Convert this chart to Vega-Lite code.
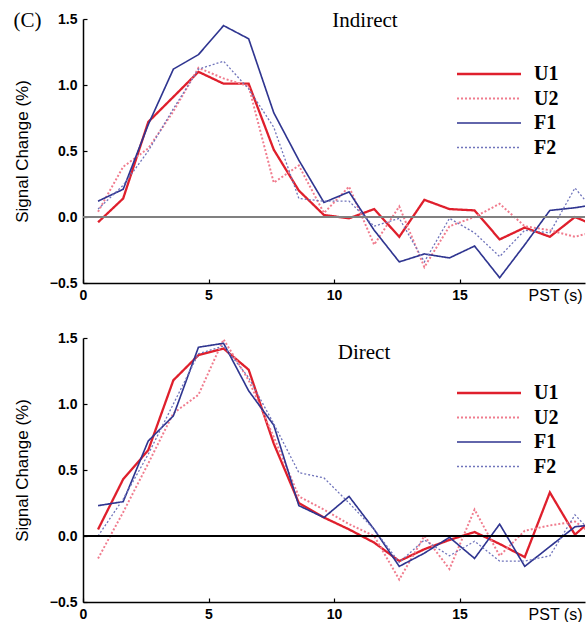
{
  "$schema": "https://vega.github.io/schema/vega-lite/v6.json",
  "padding": {"left": 13, "top": 10, "right": 0, "bottom": 0},
  "title": {"text": "(C)", "anchor": "start", "frame": "bounds", "font": "Liberation Serif", "fontSize": 21, "fontWeight": "normal", "color": "#000", "offset": -32, "dx": 0, "baseline": "middle"},
  "datasets": {
    "d": [
      {"p":"Indirect","s":"U1","x":0.6,"y":-0.04},{"p":"Indirect","s":"U1","x":1.6,"y":0.14},{"p":"Indirect","s":"U1","x":2.6,"y":0.72},{"p":"Indirect","s":"U1","x":3.6,"y":0.91},{"p":"Indirect","s":"U1","x":4.6,"y":1.10},{"p":"Indirect","s":"U1","x":5.6,"y":1.01},{"p":"Indirect","s":"U1","x":6.6,"y":1.01},{"p":"Indirect","s":"U1","x":7.6,"y":0.51},{"p":"Indirect","s":"U1","x":8.6,"y":0.20},{"p":"Indirect","s":"U1","x":9.6,"y":0.015},{"p":"Indirect","s":"U1","x":10.6,"y":-0.01},{"p":"Indirect","s":"U1","x":11.6,"y":0.06},{"p":"Indirect","s":"U1","x":12.6,"y":-0.15},{"p":"Indirect","s":"U1","x":13.6,"y":0.13},{"p":"Indirect","s":"U1","x":14.6,"y":0.06},{"p":"Indirect","s":"U1","x":15.6,"y":0.05},{"p":"Indirect","s":"U1","x":16.6,"y":-0.17},{"p":"Indirect","s":"U1","x":17.6,"y":-0.08},{"p":"Indirect","s":"U1","x":18.6,"y":-0.15},{"p":"Indirect","s":"U1","x":19.6,"y":0.0},{"p":"Indirect","s":"U1","x":20.6,"y":-0.08},
      {"p":"Indirect","s":"U2","x":0.6,"y":0.04},{"p":"Indirect","s":"U2","x":1.6,"y":0.38},{"p":"Indirect","s":"U2","x":2.6,"y":0.52},{"p":"Indirect","s":"U2","x":3.6,"y":0.80},{"p":"Indirect","s":"U2","x":4.6,"y":1.13},{"p":"Indirect","s":"U2","x":5.6,"y":1.05},{"p":"Indirect","s":"U2","x":6.6,"y":0.99},{"p":"Indirect","s":"U2","x":7.6,"y":0.26},{"p":"Indirect","s":"U2","x":8.6,"y":0.39},{"p":"Indirect","s":"U2","x":9.6,"y":0.03},{"p":"Indirect","s":"U2","x":10.6,"y":0.23},{"p":"Indirect","s":"U2","x":11.6,"y":-0.21},{"p":"Indirect","s":"U2","x":12.6,"y":0.08},{"p":"Indirect","s":"U2","x":13.6,"y":-0.38},{"p":"Indirect","s":"U2","x":14.6,"y":-0.07},{"p":"Indirect","s":"U2","x":15.6,"y":0.0},{"p":"Indirect","s":"U2","x":16.6,"y":0.10},{"p":"Indirect","s":"U2","x":17.6,"y":-0.07},{"p":"Indirect","s":"U2","x":18.6,"y":-0.10},{"p":"Indirect","s":"U2","x":19.6,"y":-0.15},{"p":"Indirect","s":"U2","x":20.6,"y":-0.10},
      {"p":"Indirect","s":"F1","x":0.6,"y":0.12},{"p":"Indirect","s":"F1","x":1.6,"y":0.21},{"p":"Indirect","s":"F1","x":2.6,"y":0.70},{"p":"Indirect","s":"F1","x":3.6,"y":1.12},{"p":"Indirect","s":"F1","x":4.6,"y":1.23},{"p":"Indirect","s":"F1","x":5.6,"y":1.45},{"p":"Indirect","s":"F1","x":6.6,"y":1.35},{"p":"Indirect","s":"F1","x":7.6,"y":0.79},{"p":"Indirect","s":"F1","x":8.6,"y":0.43},{"p":"Indirect","s":"F1","x":9.6,"y":0.11},{"p":"Indirect","s":"F1","x":10.6,"y":0.19},{"p":"Indirect","s":"F1","x":11.6,"y":-0.10},{"p":"Indirect","s":"F1","x":12.6,"y":-0.34},{"p":"Indirect","s":"F1","x":13.6,"y":-0.28},{"p":"Indirect","s":"F1","x":14.6,"y":-0.31},{"p":"Indirect","s":"F1","x":15.6,"y":-0.22},{"p":"Indirect","s":"F1","x":16.6,"y":-0.46},{"p":"Indirect","s":"F1","x":17.6,"y":-0.21},{"p":"Indirect","s":"F1","x":18.6,"y":0.05},{"p":"Indirect","s":"F1","x":19.6,"y":0.07},{"p":"Indirect","s":"F1","x":20.6,"y":0.10},
      {"p":"Indirect","s":"F2","x":0.6,"y":0.06},{"p":"Indirect","s":"F2","x":1.6,"y":0.24},{"p":"Indirect","s":"F2","x":2.6,"y":0.50},{"p":"Indirect","s":"F2","x":3.6,"y":0.82},{"p":"Indirect","s":"F2","x":4.6,"y":1.12},{"p":"Indirect","s":"F2","x":5.6,"y":1.18},{"p":"Indirect","s":"F2","x":6.6,"y":0.97},{"p":"Indirect","s":"F2","x":7.6,"y":0.68},{"p":"Indirect","s":"F2","x":8.6,"y":0.14},{"p":"Indirect","s":"F2","x":9.6,"y":0.12},{"p":"Indirect","s":"F2","x":10.6,"y":0.12},{"p":"Indirect","s":"F2","x":11.6,"y":-0.07},{"p":"Indirect","s":"F2","x":12.6,"y":-0.01},{"p":"Indirect","s":"F2","x":13.6,"y":-0.34},{"p":"Indirect","s":"F2","x":14.6,"y":-0.01},{"p":"Indirect","s":"F2","x":15.6,"y":-0.12},{"p":"Indirect","s":"F2","x":16.6,"y":-0.30},{"p":"Indirect","s":"F2","x":17.6,"y":-0.10},{"p":"Indirect","s":"F2","x":18.6,"y":-0.12},{"p":"Indirect","s":"F2","x":19.6,"y":0.22},{"p":"Indirect","s":"F2","x":20.6,"y":-0.01},
      {"p":"Direct","s":"U1","x":0.6,"y":0.05},{"p":"Direct","s":"U1","x":1.6,"y":0.43},{"p":"Direct","s":"U1","x":2.6,"y":0.65},{"p":"Direct","s":"U1","x":3.6,"y":1.18},{"p":"Direct","s":"U1","x":4.6,"y":1.37},{"p":"Direct","s":"U1","x":5.6,"y":1.42},{"p":"Direct","s":"U1","x":6.6,"y":1.26},{"p":"Direct","s":"U1","x":7.6,"y":0.70},{"p":"Direct","s":"U1","x":8.6,"y":0.25},{"p":"Direct","s":"U1","x":9.6,"y":0.14},{"p":"Direct","s":"U1","x":10.6,"y":0.05},{"p":"Direct","s":"U1","x":11.6,"y":-0.05},{"p":"Direct","s":"U1","x":12.6,"y":-0.19},{"p":"Direct","s":"U1","x":13.6,"y":-0.10},{"p":"Direct","s":"U1","x":14.6,"y":-0.03},{"p":"Direct","s":"U1","x":15.6,"y":0.03},{"p":"Direct","s":"U1","x":16.6,"y":-0.06},{"p":"Direct","s":"U1","x":17.6,"y":-0.16},{"p":"Direct","s":"U1","x":18.6,"y":0.33},{"p":"Direct","s":"U1","x":19.6,"y":0.01},{"p":"Direct","s":"U1","x":20.6,"y":0.18},
      {"p":"Direct","s":"U2","x":0.6,"y":-0.17},{"p":"Direct","s":"U2","x":1.6,"y":0.18},{"p":"Direct","s":"U2","x":2.6,"y":0.55},{"p":"Direct","s":"U2","x":3.6,"y":0.93},{"p":"Direct","s":"U2","x":4.6,"y":1.07},{"p":"Direct","s":"U2","x":5.6,"y":1.49},{"p":"Direct","s":"U2","x":6.6,"y":1.18},{"p":"Direct","s":"U2","x":7.6,"y":0.75},{"p":"Direct","s":"U2","x":8.6,"y":0.30},{"p":"Direct","s":"U2","x":9.6,"y":0.20},{"p":"Direct","s":"U2","x":10.6,"y":0.09},{"p":"Direct","s":"U2","x":11.6,"y":0.0},{"p":"Direct","s":"U2","x":12.6,"y":-0.33},{"p":"Direct","s":"U2","x":13.6,"y":0.0},{"p":"Direct","s":"U2","x":14.6,"y":-0.25},{"p":"Direct","s":"U2","x":15.6,"y":0.20},{"p":"Direct","s":"U2","x":16.6,"y":-0.15},{"p":"Direct","s":"U2","x":17.6,"y":0.04},{"p":"Direct","s":"U2","x":18.6,"y":0.08},{"p":"Direct","s":"U2","x":19.6,"y":0.11},{"p":"Direct","s":"U2","x":20.6,"y":-0.03},
      {"p":"Direct","s":"F1","x":0.6,"y":0.23},{"p":"Direct","s":"F1","x":1.6,"y":0.26},{"p":"Direct","s":"F1","x":2.6,"y":0.72},{"p":"Direct","s":"F1","x":3.6,"y":0.91},{"p":"Direct","s":"F1","x":4.6,"y":1.43},{"p":"Direct","s":"F1","x":5.6,"y":1.46},{"p":"Direct","s":"F1","x":6.6,"y":1.10},{"p":"Direct","s":"F1","x":7.6,"y":0.84},{"p":"Direct","s":"F1","x":8.6,"y":0.23},{"p":"Direct","s":"F1","x":9.6,"y":0.14},{"p":"Direct","s":"F1","x":10.6,"y":0.30},{"p":"Direct","s":"F1","x":11.6,"y":0.05},{"p":"Direct","s":"F1","x":12.6,"y":-0.23},{"p":"Direct","s":"F1","x":13.6,"y":-0.13},{"p":"Direct","s":"F1","x":14.6,"y":-0.01},{"p":"Direct","s":"F1","x":15.6,"y":-0.17},{"p":"Direct","s":"F1","x":16.6,"y":0.09},{"p":"Direct","s":"F1","x":17.6,"y":-0.23},{"p":"Direct","s":"F1","x":18.6,"y":-0.08},{"p":"Direct","s":"F1","x":19.6,"y":0.07},{"p":"Direct","s":"F1","x":20.6,"y":0.09},
      {"p":"Direct","s":"F2","x":0.6,"y":0.0},{"p":"Direct","s":"F2","x":1.6,"y":0.28},{"p":"Direct","s":"F2","x":2.6,"y":0.62},{"p":"Direct","s":"F2","x":3.6,"y":1.00},{"p":"Direct","s":"F2","x":4.6,"y":1.38},{"p":"Direct","s":"F2","x":5.6,"y":1.44},{"p":"Direct","s":"F2","x":6.6,"y":1.20},{"p":"Direct","s":"F2","x":7.6,"y":0.85},{"p":"Direct","s":"F2","x":8.6,"y":0.48},{"p":"Direct","s":"F2","x":9.6,"y":0.44},{"p":"Direct","s":"F2","x":10.6,"y":0.25},{"p":"Direct","s":"F2","x":11.6,"y":0.05},{"p":"Direct","s":"F2","x":12.6,"y":-0.20},{"p":"Direct","s":"F2","x":13.6,"y":-0.03},{"p":"Direct","s":"F2","x":14.6,"y":-0.15},{"p":"Direct","s":"F2","x":15.6,"y":-0.04},{"p":"Direct","s":"F2","x":16.6,"y":-0.19},{"p":"Direct","s":"F2","x":17.6,"y":-0.19},{"p":"Direct","s":"F2","x":18.6,"y":-0.15},{"p":"Direct","s":"F2","x":19.6,"y":0.16},{"p":"Direct","s":"F2","x":20.6,"y":-0.04}
    ]
  },
  "spacing": 28,
  "vconcat": [
    {
      "width": 502, "height": 264,
      "title": {"text": "Indirect", "dx": 31, "offset": -36, "baseline": "alphabetic"},
      "data": {"name": "d"},
      "transform": [{"filter": "datum.p === 'Indirect'"}],
      "layer": [
        {"mark": {"type": "line", "clip": true}, "encoding": {
          "x": {"field": "x", "type": "quantitative", "scale": {"domain": [0, 20], "nice": false}, "axis": {"values": [0, 5, 10, 15], "title": "PST (s)"}},
          "y": {"field": "y", "type": "quantitative", "scale": {"domain": [-0.5, 1.5], "nice": false}, "axis": {"values": [-0.5, 0, 0.5, 1, 1.5], "format": ".1f", "title": "Signal Change (%)"}},
          "color": {"field": "s", "type": "nominal", "scale": {"domain": ["U1","U2","F1","F2"], "range": ["#df1f2c","#f07c8e","#2f3590","#7074bb"]}, "legend": {"title": null}},
          "strokeDash": {"field": "s", "type": "nominal", "scale": {"domain": ["U1","U2","F1","F2"], "range": [[1,0],[2,2],[1,0],[2,2]]}, "legend": {"title": null}},
          "strokeWidth": {"field": "s", "type": "nominal", "scale": {"domain": ["U1","U2","F1","F2"], "range": [2.3,1.3,2.3,1.3]}, "legend": {"title": null}}
        }},
        {"mark": {"type": "rule", "color": "#808080", "strokeWidth": 1.2}, "encoding": {"y": {"datum": 0, "type": "quantitative"}}}
      ]
    },
    {
      "width": 502, "height": 264,
      "title": {"text": "Direct", "dx": 30, "offset": -49, "baseline": "alphabetic"},
      "data": {"name": "d"},
      "transform": [{"filter": "datum.p === 'Direct'"}],
      "layer": [
        {"mark": {"type": "line", "clip": true}, "encoding": {
          "x": {"field": "x", "type": "quantitative", "scale": {"domain": [0, 20], "nice": false}, "axis": {"values": [0, 5, 10, 15], "title": "PST (s)"}},
          "y": {"field": "y", "type": "quantitative", "scale": {"domain": [-0.5, 1.5], "nice": false}, "axis": {"values": [-0.5, 0, 0.5, 1, 1.5], "format": ".1f", "title": "Signal Change (%)"}},
          "color": {"field": "s", "type": "nominal", "scale": {"domain": ["U1","U2","F1","F2"], "range": ["#df1f2c","#f07c8e","#2f3590","#7074bb"]}, "legend": {"title": null}},
          "strokeDash": {"field": "s", "type": "nominal", "scale": {"domain": ["U1","U2","F1","F2"], "range": [[1,0],[2,2],[1,0],[2,2]]}, "legend": {"title": null}},
          "strokeWidth": {"field": "s", "type": "nominal", "scale": {"domain": ["U1","U2","F1","F2"], "range": [2.3,1.3,2.3,1.3]}, "legend": {"title": null}}
        }},
        {"mark": {"type": "rule", "color": "#000000", "strokeWidth": 1}, "encoding": {"y": {"datum": 0, "type": "quantitative"}}}
      ]
    }
  ],
  "resolve": {"legend": {"color": "independent", "strokeDash": "independent", "strokeWidth": "independent"}},
  "config": {
    "view": {"stroke": null},
    "title": {"font": "Liberation Serif", "fontSize": 21, "fontWeight": "normal", "color": "#000"},
    "axis": {"grid": false, "domainColor": "#000", "domainWidth": 1.5, "tickColor": "#000", "tickWidth": 1.2, "tickSize": -4, "labelColor": "#000", "labelFont": "Liberation Sans", "labelFontWeight": "bold", "titleFont": "Liberation Sans", "titleColor": "#000", "titleFontWeight": "normal"},
    "axisX": {"labelFontSize": 14, "labelPadding": 9, "titleFontSize": 16, "titleAlign": "right", "titleX": 499, "titleY": 17, "titleBaseline": "alphabetic", "labelFlush": false},
    "axisY": {"labelFontSize": 14, "labelPadding": 10, "titleFontSize": 17, "titleX": -60.5, "titleY": 132, "titleAngle": -90, "titleBaseline": "middle", "titleAlign": "center"},
    "legend": {"orient": "none", "legendX": 396, "legendY": 45, "symbolType": "M-4,0H4", "symbolSize": 256, "labelFont": "Liberation Serif", "labelFontSize": 20, "labelFontWeight": "bold", "labelColor": "#000", "labelOffset": 35, "rowPadding": 4.5, "symbolOpacity": 1}
  }
}
